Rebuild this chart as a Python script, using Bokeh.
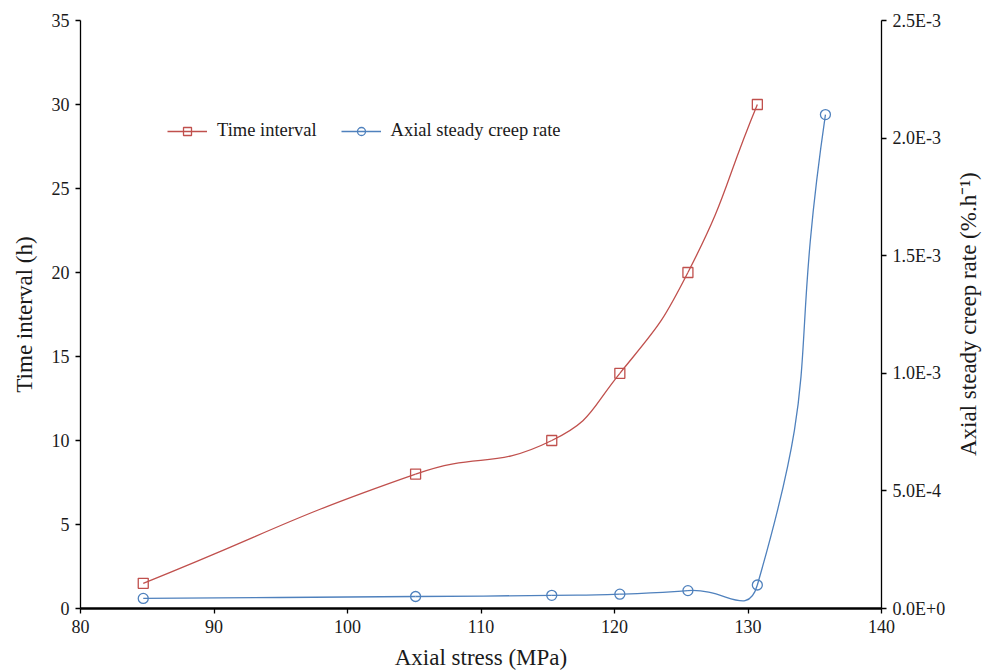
import numpy as np
from bokeh.plotting import figure
from bokeh.layouts import row
from bokeh.models import Range1d, LinearAxis, FixedTicker, Legend, LegendItem, Div
from bokeh.embed import file_html
from bokeh.resources import INLINE

# ---- data ----
stress = [84.7, 105.1, 115.3, 120.4, 125.5, 130.7]
time_interval = [1.5, 8, 10, 14, 20, 30]
stress_rate = [84.7, 105.1, 115.3, 120.4, 125.5, 130.7, 135.8]
creep_rate = [4.3e-5, 5.1e-5, 5.6e-5, 6.1e-5, 7.6e-5, 1.0e-4, 2.1e-3]

x_ticks = [80, 90, 100, 110, 120, 130, 140]
left_ticks = [0, 5, 10, 15, 20, 25, 30, 35]
rate_ticks = [0.0, 5e-4, 1e-3, 1.5e-3, 2e-3, 2.5e-3]
rate_tick_labels = ["0.0E+0", "5.0E-4", "1.0E-3", "1.5E-3", "2.0E-3", "2.5E-3"]
right_title_text = "Axial steady creep rate (%.h\u207b\u00b9)"

FONT = "Liberation Serif"
RED = "#C0504D"
BLUE = "#4F81BD"
TXT = "#1a1a1a"

W, H = 950, 672
DIV_W = 39
L, R, T, B = 80, 69, 20, 64
fw, fh = W - L - R, H - T - B


def smooth(xs, ys, sx, sy, k=2.0):
    """Excel-like smoothed line: bezier control points computed in pixel space."""
    P = np.column_stack([np.asarray(xs, float) * sx, np.asarray(ys, float) * sy])
    n = len(P)
    out = {k_: [] for k_ in ("x0", "y0", "x1", "y1", "cx0", "cy0", "cx1", "cy1")}
    for i in range(n - 1):
        p0 = P[i - 1] if i > 0 else P[i]
        p1, p2 = P[i], P[i + 1]
        p3 = P[i + 2] if i + 2 < n else P[i + 1]
        d01 = np.linalg.norm(p1 - p0)
        d12 = np.linalg.norm(p2 - p1)
        d23 = np.linalg.norm(p3 - p2)
        c1 = p1 + (p2 - p0) * d12 / (k * (d01 + d12))
        c2 = p2 - (p3 - p1) * d12 / (k * (d12 + d23))
        out["x0"].append(p1[0] / sx); out["y0"].append(p1[1] / sy)
        out["x1"].append(p2[0] / sx); out["y1"].append(p2[1] / sy)
        out["cx0"].append(c1[0] / sx); out["cy0"].append(c1[1] / sy)
        out["cx1"].append(c2[0] / sx); out["cy1"].append(c2[1] / sy)
    return out


p = figure(width=W, height=H, output_backend="svg", toolbar_location=None,
           x_range=Range1d(80, 140), y_range=Range1d(0, 35),
           min_border_left=L, min_border_right=R, min_border_top=T, min_border_bottom=B,
           x_axis_label="Axial stress (MPa)", y_axis_label="Time interval (h)")
p.outline_line_color = None
p.grid.visible = False
p.extra_y_ranges = {"rate": Range1d(0, 2.5e-3)}

sx = fw / 60.0
sy_left = fh / 35.0
sy_right = fh / 2.5e-3

red = smooth(stress, time_interval, sx, sy_left)
blue = smooth(stress_rate, creep_rate, sx, sy_right, k=1.8)

rb = p.bezier(**red, line_color=RED, line_width=1.3)
rs = p.scatter(stress, time_interval, marker="square", size=10, line_color=RED,
               fill_color=None, line_width=1.3)
bb = p.bezier(**blue, line_color=BLUE, line_width=1.3, y_range_name="rate")
bs = p.scatter(stress_rate, creep_rate, marker="circle", size=10, line_color=BLUE,
               fill_color=None, line_width=1.3, y_range_name="rate")

raxis = LinearAxis(y_range_name="rate")
raxis.ticker = FixedTicker(ticks=rate_ticks)
raxis.major_label_overrides = dict(zip(rate_ticks, rate_tick_labels))
p.add_layout(raxis, "right")

p.xaxis.ticker = FixedTicker(ticks=x_ticks)
p.yaxis[0].ticker = FixedTicker(ticks=left_ticks)

for ax in [p.xaxis[0], p.yaxis[0], raxis]:
    ax.axis_line_color = "black"
    ax.major_tick_line_color = "black"
    ax.major_tick_in = 0
    ax.major_tick_out = 5
    ax.minor_tick_line_color = None
    ax.major_label_text_font = FONT
    ax.major_label_text_font_size = "18px"
    ax.major_label_text_color = TXT
    ax.major_label_standoff = 6
    ax.axis_label_text_font = FONT
    ax.axis_label_text_font_size = "23px"
    ax.axis_label_text_font_style = "normal"
    ax.axis_label_text_color = TXT
p.xaxis[0].axis_line_width = 2.5
p.xaxis[0].major_tick_line_width = 1.3
p.yaxis[0].axis_line_width = 1.3
p.yaxis[0].major_tick_line_width = 1.3
raxis.axis_line_width = 1.3
raxis.major_tick_line_width = 1.3
p.xaxis[0].axis_label_standoff = 9
p.yaxis[0].axis_label_standoff = 12

legend = Legend(items=[LegendItem(label="Time interval", renderers=[rb, rs]),
                       LegendItem(label="Axial steady creep rate", renderers=[bb, bs])],
                orientation="horizontal", location=(87, 467),
                border_line_color=None, background_fill_alpha=0,
                label_text_font=FONT, label_text_font_size="18.5px",
                label_text_color=TXT, glyph_width=40, label_standoff=10, spacing=24)
p.add_layout(legend)

# right-hand axis title, reading bottom-to-top
right_title = Div(
    width=DIV_W, height=H,
    text=('<div style="writing-mode:vertical-rl;transform:rotate(180deg);'
          f'width:{DIV_W}px;height:{H - T - B}px;margin-top:{T}px;display:flex;'
          'align-items:center;justify-content:center;white-space:nowrap;'
          f'font-family:\'{FONT}\';font-size:23px;color:{TXT};">'
          f'{right_title_text}</div>'),
    margin=0)

layout = row(p, right_title, spacing=0)

open("out.html", "w").write(file_html(layout, INLINE))
